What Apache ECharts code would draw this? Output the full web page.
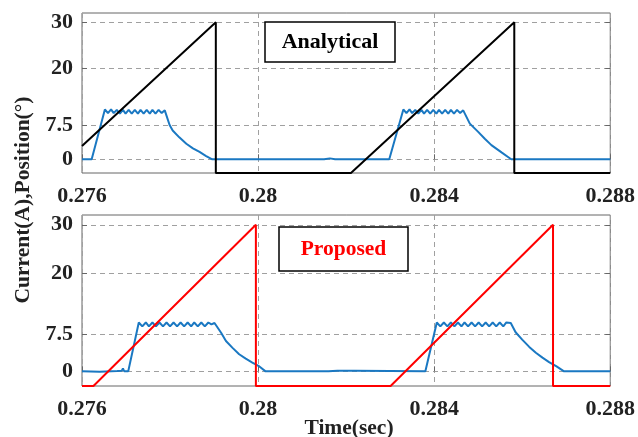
<!DOCTYPE html>
<html><head><meta charset="utf-8">
<script src="https://cdn.jsdelivr.net/npm/echarts@6/dist/echarts.min.js"></script>
<style>html,body{margin:0;padding:0;background:#fff}#c{width:638px;height:437px}</style>
</head><body><div id="c"></div>
<script>
const xTicks = [0.276, 0.28, 0.284, 0.288];
const yTicks = [0, 7.5, 20, 30];

// Analytical (top) position sawtooth [time, deg]
const topPosition = [[0.276,2.9],[0.27904,30],[0.27904,-3],[0.28211,-3],[0.28582,30],[0.28582,-3],[0.288,-3]];
// Proposed (bottom) position sawtooth
const botPosition = [[0.276,-3],[0.27626,-3],[0.27995,30],[0.27995,-3],[0.28301,-3],[0.28670,30],[0.28670,-3],[0.288,-3]];

// Top current [time, A]
const topCurrent = [
[0.276,0],[0.27622,0],[0.27652,10.9],[0.27659,10.1],[0.27666,10.9],[0.27672,10.1],[0.27679,10.8],[0.27686,10.0],
[0.27693,10.8],[0.27699,10.0],[0.27706,10.8],[0.27713,10.0],[0.27720,10.8],[0.27727,10.0],[0.27733,10.8],[0.27740,10.0],
[0.27747,10.8],[0.27754,10.0],[0.27760,10.8],[0.27767,10.0],[0.27774,10.8],[0.27781,10.1],[0.27788,10.7],[0.27792,10.6],
[0.27799,7.5],[0.27806,6.3],[0.27821,4.8],[0.27837,3.4],[0.27852,2.4],[0.27867,1.6],[0.27882,0.7],[0.27896,0],
[0.2815,0],[0.28163,0.2],[0.28175,0],[0.28298,0],
[0.28330,10.9],[0.28337,10.1],[0.28344,10.9],[0.28350,10.1],[0.28357,10.8],[0.28364,10.0],[0.28371,10.8],[0.28377,10.0],
[0.28384,10.8],[0.28391,10.0],[0.28398,10.8],[0.28405,10.0],[0.28411,10.8],[0.28418,10.0],[0.28425,10.8],[0.28432,10.0],
[0.28438,10.8],[0.28445,10.0],[0.28452,10.8],[0.28459,10.1],[0.28466,10.7],[0.28469,10.6],
[0.28481,7.8],[0.28500,6.0],[0.28515,4.5],[0.28530,3.1],[0.28553,1.5],[0.28575,0],[0.288,0]
];

// Bottom current [time, A]
const botCurrent = [
[0.276,0],[0.2764,-0.1],[0.2768,0.05],[0.27690,0.1],[0.27693,0.6],[0.27696,0],[0.27705,0],
[0.27729,10.0],[0.27737,9.2],[0.27745,10.0],[0.27752,9.2],[0.27760,10.0],[0.27768,9.2],[0.27776,10.0],[0.27784,9.2],
[0.27792,10.0],[0.27800,9.2],[0.27808,10.0],[0.27816,9.2],[0.27824,10.0],[0.27832,9.2],[0.27840,10.0],[0.27848,9.2],
[0.27855,10.0],[0.27863,9.2],[0.27871,10.0],[0.27879,9.2],[0.27887,10.0],[0.27894,9.6],[0.27901,9.9],
[0.27916,7.9],[0.27927,6.2],[0.27942,4.8],[0.27957,3.5],[0.27972,2.6],[0.27987,1.8],[0.28003,1.0],[0.28017,0],
[0.2816,0],[0.2818,0.1],[0.2822,0.1],[0.28380,0],
[0.28406,10.0],[0.28414,9.2],[0.28422,10.0],[0.28430,9.2],[0.28438,10.0],[0.28446,9.2],[0.28454,10.0],[0.28462,9.2],
[0.28469,10.0],[0.28477,9.2],[0.28485,10.0],[0.28493,9.2],[0.28501,10.0],[0.28509,9.2],[0.28517,10.0],[0.28525,9.2],
[0.28533,10.0],[0.28541,9.2],[0.28549,10.0],[0.28557,9.2],[0.28564,10.0],[0.28574,9.9],
[0.28585,8.0],[0.28600,6.5],[0.28616,5.0],[0.28631,3.8],[0.28646,2.8],[0.28661,1.9],[0.28678,1.0],[0.28695,0],[0.288,0]
];

const FONT = 'Liberation Serif';
const gridLine = {show:true, lineStyle:{color:'#a0a0a0', type:[5,4], width:1}};
function xAx(gi){
  return {type:'value', gridIndex:gi, min:0.276, max:0.288,
    axisLine:{show:false}, axisTick:{show:true, inside:true, length:5, customValues:xTicks, lineStyle:{color:'#666'}},
    splitLine:gridLine,
    axisLabel:{customValues:xTicks, margin:12, fontFamily:FONT, fontWeight:'bold', fontSize:22, color:'#222',
      formatter:v=>String(+v.toFixed(3))}};
}
function yAx(gi){
  return {type:'value', gridIndex:gi, min:-3, max:32,
    axisLine:{show:false}, axisTick:{show:true, inside:true, length:5, customValues:yTicks, lineStyle:{color:'#666'}},
    splitLine:gridLine,
    axisLabel:{customValues:yTicks, margin:9, fontFamily:FONT, fontWeight:'bold', fontSize:22, color:'#222'}};
}
function yAxR(gi){
  return {type:'value', gridIndex:gi, min:-3, max:32, position:'right',
    axisLine:{show:false}, axisTick:{show:true, inside:true, length:5, customValues:yTicks, lineStyle:{color:'#666'}},
    splitLine:{show:false}, axisLabel:{show:false}};
}
const blue = '#1a78c2';
const chart = echarts.init(document.getElementById('c'), null, {renderer:'canvas'});
chart.setOption({
  animation:false,
  backgroundColor:'#fff',
  grid:[
    {left:82, top:13, width:531, height:160, show:true, borderColor:'#666', borderWidth:1},
    {left:82, top:215, width:531, height:171, show:true, borderColor:'#666', borderWidth:1}
  ],
  xAxis:[xAx(0), xAx(1)],
  yAxis:[yAx(0), yAx(1), yAxR(0), yAxR(1)],
  series:[
    {type:'line', xAxisIndex:0, yAxisIndex:0, data:topCurrent, showSymbol:false, clip:false, lineStyle:{color:blue, width:2}, z:3},
    {type:'line', xAxisIndex:0, yAxisIndex:0, data:topPosition, showSymbol:false, clip:false, lineStyle:{color:'#000', width:2}, z:4},
    {type:'line', xAxisIndex:1, yAxisIndex:1, data:botCurrent, showSymbol:false, clip:false, lineStyle:{color:blue, width:2}, z:3},
    {type:'line', xAxisIndex:1, yAxisIndex:1, data:botPosition, showSymbol:false, clip:false, lineStyle:{color:'#ff0000', width:2}, z:4}
  ],
  graphic:[
    {type:'rect', shape:{x:265, y:22, width:130, height:40}, style:{fill:'#fff', stroke:'#000', lineWidth:1.5}, z:10},
    {type:'text', x:330, y:42, style:{text:'Analytical', fill:'#000', font:'bold 22px "Liberation Serif"', align:'center', verticalAlign:'middle'}, z:11},
    {type:'rect', shape:{x:279, y:227, width:129, height:44}, style:{fill:'#fff', stroke:'#000', lineWidth:1.5}, z:10},
    {type:'text', x:343.5, y:249, style:{text:'Proposed', fill:'#ff0000', font:'bold 21.5px "Liberation Serif"', align:'center', verticalAlign:'middle'}, z:11},
    {type:'text', x:23, y:200, rotation:Math.PI/2, style:{text:'Current(A),Position(°)', fill:'#222', font:'bold 21.5px "Liberation Serif"', align:'center', verticalAlign:'middle'}},
    {type:'text', x:349, y:428, style:{text:'Time(sec)', fill:'#222', font:'bold 21.5px "Liberation Serif"', align:'center', verticalAlign:'middle'}}
  ]
});
</script></body></html>
